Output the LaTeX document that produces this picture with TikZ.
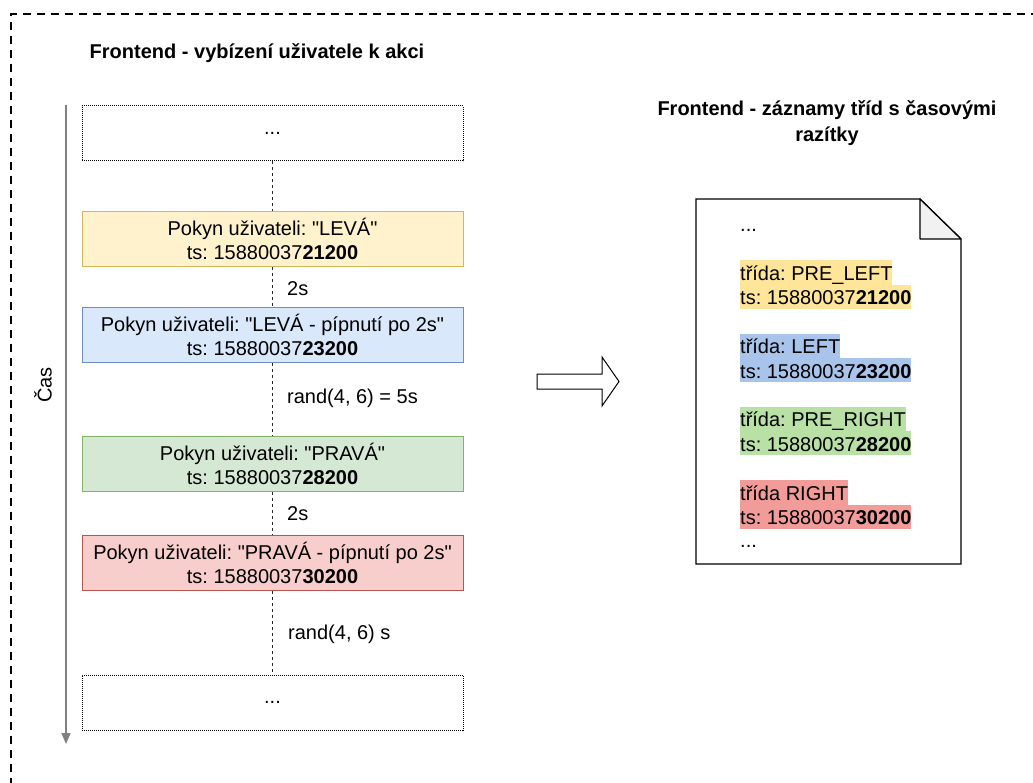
\documentclass[tikz,border=0pt]{standalone}
\usepackage{fontspec}
\setmainfont{Liberation Sans}[Ligatures=TeXOff]
\usetikzlibrary{arrows.meta}
\frenchspacing

\definecolor{yfill}{HTML}{FFF2CC}\definecolor{yline}{HTML}{D6B656}
\definecolor{bfill}{HTML}{DAE8FC}\definecolor{bline}{HTML}{6C8EBF}
\definecolor{gfill}{HTML}{D5E8D4}\definecolor{gline}{HTML}{82B366}
\definecolor{rfill}{HTML}{F8CECC}\definecolor{rline}{HTML}{B85450}
\definecolor{yhl}{HTML}{FFE599}
\definecolor{bhl}{HTML}{A9C4EB}
\definecolor{ghl}{HTML}{B9E0A5}
\definecolor{rhl}{HTML}{F19C99}
\definecolor{foldgray}{HTML}{F1F1F1}
\definecolor{timegray}{HTML}{808080}

\tikzset{
  txt/.style={font=\fontsize{20}{24.3}\selectfont, inner sep=0pt},
  eventbox/.style={txt, draw, line width=1pt, minimum width=381pt, minimum height=55pt, align=center},
  dotbox/.style={eventbox, dash pattern=on 1pt off 1pt, line width=1pt},
  yellowbox/.style={eventbox, fill=yfill, draw=yline},
  bluebox/.style={eventbox, fill=bfill, draw=bline},
  greenbox/.style={eventbox, fill=gfill, draw=gline},
  redbox/.style={eventbox, fill=rfill, draw=rline},
  link/.style={draw=black!85, line width=1pt, dash pattern=on 3pt off 3pt},
  gaplabel/.style={txt, anchor=base west},
  title/.style={txt, font=\fontsize{20}{26}\bfseries\selectfont, align=center},
  docline/.style={txt, anchor=north west, text height=20pt, text depth=4.3pt},
  frame/.style={line width=1.6pt, dash pattern=on 8pt off 6pt},
}

\begin{document}
\begin{tikzpicture}[x=1pt, y=-1pt]
  \useasboundingbox (0,0) rectangle (1033,782);
  \clip (0,0) rectangle (1033,782);

  % outer dashed frame, running past the right and bottom edges
  \draw[frame] (11,800) -- (11,14) -- (1050,14);

  % left column: prompts shown to the user over time
  \node[title] (lefttitle) at (257,53) {Frontend - vybízení uživatele k akci};

  \coordinate (tstart) at (66,105);
  \coordinate (tend) at (66,744);
  \draw[timegray, line width=1.5pt, -{Triangle[width=9pt,length=11pt]}] (tstart) -- (tend);
  \node[txt, rotate=90] (cas) at (43,385) {Čas};

  \node[dotbox] (prev) at (272.5,133) {...};
  \node[yellowbox] (left) at (272.5,239) {Pokyn uživateli: "LEVÁ"\\ts: 15880037\textbf{21200}};
  \node[bluebox] (leftbeep) at (272.5,335) {Pokyn uživateli: "LEVÁ - pípnutí po 2s"\\ts: 15880037\textbf{23200}};
  \node[greenbox] (right) at (272.5,464) {Pokyn uživateli: "PRAVÁ"\\ts: 15880037\textbf{28200}};
  \node[redbox] (rightbeep) at (272.5,563) {Pokyn uživateli: "PRAVÁ - pípnutí po 2s"\\ts: 15880037\textbf{30200}};
  \node[dotbox] (next) at (272.5,702.5) {...};

  \draw[link] (prev) -- (left);
  \draw[link] (left) -- (leftbeep);
  \draw[link] (leftbeep) -- (right);
  \draw[link] (right) -- (rightbeep);
  \draw[link] (rightbeep) -- (next);

  \node[gaplabel] (gap1) at (287,295) {2s};
  \node[gaplabel] (gap2) at (287,403) {rand(4, 6) = 5s};
  \node[gaplabel] (gap3) at (287,520) {2s};
  \node[gaplabel] (gap4) at (288,639) {rand(4, 6) s};

  % transformation arrow
  \draw[line width=1pt, fill=white]
    (537,374) -- (602,374) -- (602,357) -- (619,381.5) -- (602,406) -- (602,389) -- (537,389) -- cycle;

  % right column: class records with timestamps
  \node[title] (righttitle) at (827,123) {Frontend - záznamy tříd s časovými\\razítky};

  \draw[line width=1.3pt, fill=white]
    (696,199) -- (920,199) -- (961,239) -- (961,564) -- (696,564) -- cycle;
  \draw[line width=1.3pt, fill=foldgray, line join=round] (920,199) -- (920,239) -- (961,239) -- cycle;

  \node[docline] (d0) at (740,211.5) {...};
  \node[docline, fill=yhl] (d2) at (740,260) {třída: PRE\_LEFT};
  \node[docline, fill=yhl] (d3) at (740,284.3) {ts: 15880037\textbf{21200}};
  \node[docline, fill=bhl] (d5) at (740,333.5) {třída: LEFT};
  \node[docline, fill=bhl] (d6) at (740,357.8) {ts: 15880037\textbf{23200}};
  \node[docline, fill=ghl] (d8) at (740,406.5) {třída: PRE\_RIGHT};
  \node[docline, fill=ghl] (d9) at (740,430.8) {ts: 15880037\textbf{28200}};
  \node[docline, fill=rhl] (d11) at (740,480) {třída RIGHT};
  \node[docline, fill=rhl] (d12) at (740,504.3) {ts: 15880037\textbf{30200}};
  \node[docline] (d13) at (740,527.5) {...};
\end{tikzpicture}
\end{document}
